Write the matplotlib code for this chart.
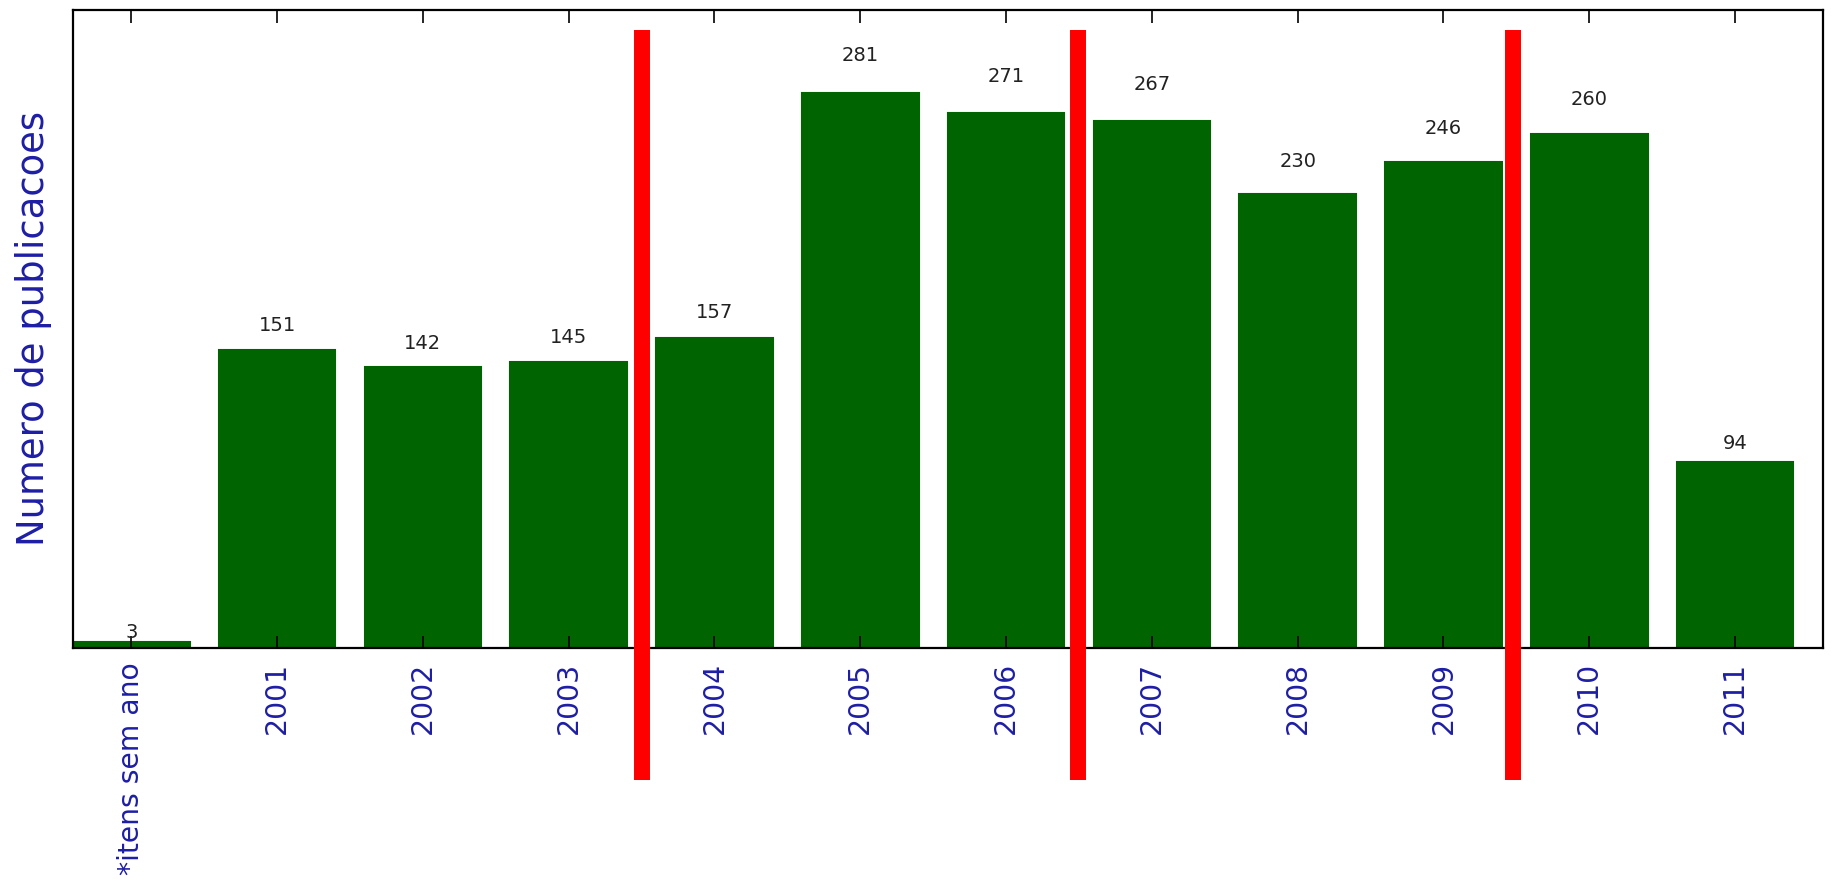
import matplotlib
matplotlib.use("Agg")
import matplotlib.pyplot as plt
from matplotlib import rcParams

rcParams["font.family"] = "DejaVu Sans"

categories = ["*itens sem ano", "2001", "2002", "2003", "2004", "2005",
              "2006", "2007", "2008", "2009", "2010", "2011"]
counts = [3, 151, 142, 145, 157, 281, 271, 267, 230, 246, 260, 94]
separators = [3.5, 6.49, 9.48]

BAR_GREEN = "#006400"
LABEL_BLUE = "#1e1ea6"

fig = plt.figure(figsize=(18.33, 8.89), dpi=100)
ax = fig.add_axes([0.0398, 0.2711, 0.9545, 0.7177])

x = list(range(len(categories)))
ax.bar(x, counts, width=0.8, color=BAR_GREEN, edgecolor=BAR_GREEN, lw=1.5)

for xi, h in zip(x, counts):
    ax.text(xi, 1.05 * h, str(h), ha="center", va="bottom",
            fontsize=14, color="#222222")

ax.vlines(separators, -67, 313, colors="red", lw=11.5, clip_on=False, zorder=5)

ax.set_xlim(-0.4, 11.6)
ax.set_ylim(0, 323)
ax.set_xticks(x)
ax.set_xticklabels(categories, rotation=90, fontsize=20.3, color=LABEL_BLUE)
ax.set_yticks([])
ax.tick_params(axis="x", direction="in", top=True, length=9, width=1.2,
               pad=10, color="black")
for sp in ax.spines.values():
    sp.set_linewidth(1.6)

ax.set_ylabel("Numero de publicacoes", fontsize=26.6, color=LABEL_BLUE, labelpad=15)

plt.savefig("out.png", dpi=100)
